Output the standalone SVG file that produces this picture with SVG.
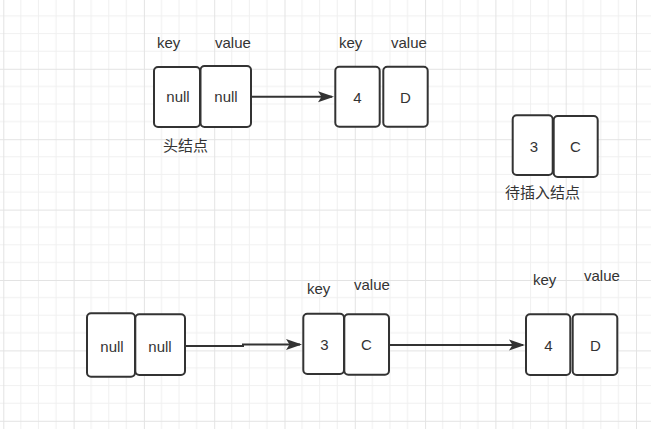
<svg xmlns="http://www.w3.org/2000/svg" width="651" height="429" viewBox="0 0 651 429">
  <defs>
    <pattern id="grid" x="3.3" y="-1.6" width="70.3" height="70.4" patternUnits="userSpaceOnUse">
      <path d="M17.575 0V70.4M35.15 0V70.4M52.725 0V70.4M0 17.6H70.3M0 35.2H70.3M0 52.8H70.3" stroke="#f0f0f0" stroke-width="1" fill="none"/>
      <path d="M0.5 0V70.4M0 0.5H70.3" stroke="#e3e3e3" stroke-width="1" fill="none"/>
    </pattern>
    <marker id="arrow" markerUnits="userSpaceOnUse" markerWidth="18" markerHeight="13" refX="14" refY="6" orient="auto">
      <path d="M0,0.5 L16,6 L0,11.5 L3.5,6 Z" fill="#333"/>
    </marker>
  </defs>
  <style>
    .box { fill: #fff; stroke: #333; stroke-width: 2; }
    .lbl { font-family: "Liberation Sans", "Noto Sans CJK SC", sans-serif; font-size: 15px; fill: #333; }
    .cjk { font-family: "Noto Sans CJK SC", "Liberation Sans", sans-serif; font-size: 15px; fill: #333; }
    .val { font-family: "Liberation Sans", "Noto Sans CJK SC", sans-serif; font-size: 15px; fill: #333; text-anchor: middle; }
    .edge { fill: none; stroke: #333; stroke-width: 2; }
  </style>
  <rect width="651" height="429" fill="#fff"/>
  <rect width="651" height="429" fill="url(#grid)"/>

  <g id="labels">
    <text class="lbl" x="157" y="48">key</text>
    <text class="lbl" x="215" y="48">value</text>
    <text class="lbl" x="339" y="48">key</text>
    <text class="lbl" x="391" y="48">value</text>
    <text class="cjk" x="163" y="151">头结点</text>
    <text class="cjk" x="505" y="198">待插入结点</text>
    <text class="lbl" x="307" y="294">key</text>
    <text class="lbl" x="354" y="290">value</text>
    <text class="lbl" x="533" y="285">key</text>
    <text class="lbl" x="584" y="281">value</text>
  </g>

  <g id="connectors">
    <path class="edge" d="M251 96.7 L332 96.7" marker-end="url(#arrow)"/>
    <path class="edge" d="M186 346 L243 346 L243 344.5 L300 344.5" marker-end="url(#arrow)"/>
    <path class="edge" d="M390 345 L523 345" marker-end="url(#arrow)"/>
  </g>

  <g id="head-node">
    <rect class="box" x="154" y="67" width="46" height="60" rx="4"/>
    <rect class="box" x="200.5" y="66" width="50.5" height="61" rx="4"/>
    <text class="val" x="178" y="102">null</text>
    <text class="val" x="226" y="102">null</text>
  </g>

  <g id="node-4D-top">
    <rect class="box" x="335.3" y="66.7" width="44.4" height="60" rx="4"/>
    <rect class="box" x="383.3" y="66.7" width="44.4" height="60" rx="4"/>
    <text class="val" x="357.5" y="102.5">4</text>
    <text class="val" x="405.5" y="102.5">D</text>
  </g>

  <g id="insert-node">
    <rect class="box" x="512.7" y="115.3" width="40" height="59.7" rx="4"/>
    <rect class="box" x="553.7" y="116" width="44" height="61" rx="4"/>
    <text class="val" x="534" y="151.5">3</text>
    <text class="val" x="575.5" y="151.5">C</text>
  </g>

  <g id="head-node-bottom">
    <rect class="box" x="87" y="313.3" width="48" height="63.4" rx="4"/>
    <rect class="box" x="135.3" y="314.3" width="49.7" height="60.7" rx="4"/>
    <text class="val" x="112" y="351.5">null</text>
    <text class="val" x="160" y="351.5">null</text>
  </g>

  <g id="node-3C-bottom">
    <rect class="box" x="303.3" y="313.7" width="40.7" height="60.3" rx="4"/>
    <rect class="box" x="344.3" y="314.3" width="44.7" height="60.4" rx="4"/>
    <text class="val" x="324.5" y="349.5">3</text>
    <text class="val" x="366.5" y="349.5">C</text>
  </g>

  <g id="node-4D-bottom">
    <rect class="box" x="526" y="314.3" width="44.3" height="60.7" rx="4"/>
    <rect class="box" x="572.7" y="314.3" width="44.6" height="60.7" rx="4"/>
    <text class="val" x="548.3" y="350.5">4</text>
    <text class="val" x="595.3" y="350.5">D</text>
  </g>
</svg>
